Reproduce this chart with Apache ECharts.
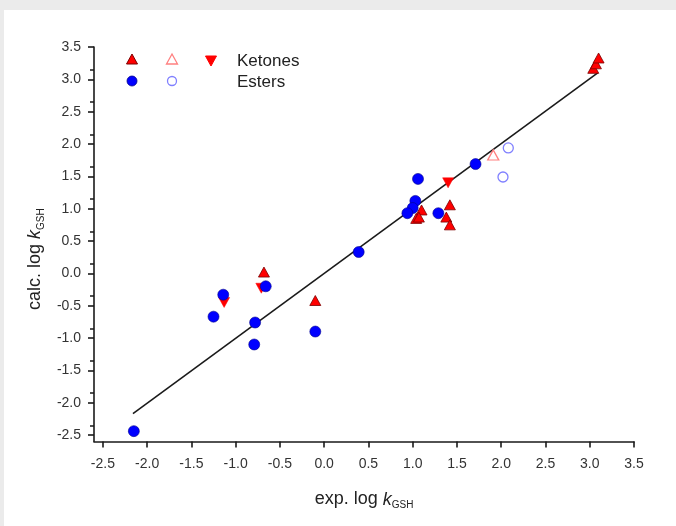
<!DOCTYPE html>
<html>
<head>
<meta charset="utf-8">
<script src="https://cdn.jsdelivr.net/npm/echarts@6/dist/echarts.min.js"></script>
<style>
  html, body { margin: 0; padding: 0; background: #fff; }
  #main { width: 676px; height: 526px; }
</style>
</head>
<body>
<div id="main"></div>
<script>
// exp. log k (x), calc. log k (y)
const ketonesUp = [
    [3.04, 3.17], [3.07, 3.24], [3.10, 3.33],
    [-0.68, 0.02], [-0.10, -0.42],
    [1.10, 0.98], [1.04, 0.85], [1.07, 0.87],
    [1.42, 1.06], [1.38, 0.87], [1.42, 0.75]
];
const ketonesOpen = [[1.91, 1.83]];
const ketonesDown = [[-1.13, -0.45], [-0.71, -0.23], [1.40, 1.40]];
const estersFilled = [
    [-2.15, -2.44], [-1.14, -0.33], [-1.25, -0.67], [-0.66, -0.20],
    [-0.78, -0.76], [-0.79, -1.10], [-0.10, -0.90], [0.39, 0.33],
    [1.06, 1.46], [1.03, 1.12], [1.00, 1.01], [0.94, 0.93],
    [1.29, 0.93], [1.71, 1.69]
];
const estersOpen = [[2.08, 1.94], [2.02, 1.49]];
const fitLine = [[-2.16, -2.17], [3.09, 3.10]];

const xRange = [-2.6, 3.5];
const yRange = [-2.6, 3.5];
const tickValues = [-2.5, -2, -1.5, -1, -0.5, 0, 0.5, 1, 1.5, 2, 2.5, 3, 3.5];

const FONT = 'Liberation Sans, Arial, sans-serif';

let chart = echarts.init(document.getElementById('main'), null, { renderer: 'canvas' });

function axisName(text) {
    return text + ' {k|k}{sub|GSH}';
}

const nameRich = {
    k: { fontFamily: FONT, fontSize: 18, fontStyle: 'italic', color: '#222' },
    sub: { fontFamily: FONT, fontSize: 10, color: '#222', padding: [12, 0, 0, 0] }
};

let option = {
    backgroundColor: '#fff',
    animation: false,
    grid: { left: 94, top: 47, width: 540, height: 394.5 },
    xAxis: {
        type: 'value',
        min: xRange[0],
        max: xRange[1],
        interval: 0.5,
        name: axisName('exp. log'),
        nameLocation: 'middle',
        nameGap: 47,
        nameTextStyle: { fontFamily: FONT, fontSize: 18, color: '#222', rich: nameRich },
        axisLine: { show: true, onZero: false, lineStyle: { color: '#1a1a1a', width: 1.6 } },
        axisTick: { show: true, inside: false, length: 6, lineStyle: { color: '#1a1a1a', width: 1.6 },
            customValues: tickValues },
        axisLabel: {
            fontFamily: FONT, fontSize: 14, color: '#333', margin: 16,
            customValues: tickValues,
            formatter: v => v.toFixed(1)
        },
        splitLine: { show: false }
    },
    yAxis: {
        type: 'value',
        min: yRange[0],
        max: yRange[1],
        interval: 0.5,
        name: axisName('calc. log'),
        nameLocation: 'middle',
        nameRotate: 90,
        nameGap: 47,
        nameTextStyle: { fontFamily: FONT, fontSize: 18, color: '#222', rich: nameRich, padding: [0, 30, 0, 0] },
        axisLine: { show: true, onZero: false, lineStyle: { color: '#1a1a1a', width: 1.6 } },
        axisTick: { show: true, inside: false, length: 6, lineStyle: { color: '#1a1a1a', width: 1.6 },
            customValues: tickValues },
        minorTick: { show: true, splitNumber: 2, length: 4, lineStyle: { color: '#1a1a1a', width: 1.5 } },
        axisLabel: {
            fontFamily: FONT, fontSize: 14, color: '#333', margin: 13,
            customValues: tickValues,
            formatter: v => v.toFixed(1)
        },
        splitLine: { show: false }
    },
    graphic: [
        // grey page frame
        { type: 'rect', shape: { x: 0, y: 0, width: 676, height: 10 }, style: { fill: '#ebebeb' }, silent: true },
        { type: 'rect', shape: { x: 0, y: 0, width: 4, height: 526 }, style: { fill: '#ebebeb' }, silent: true },
        // legend
        { type: 'polygon', shape: { points: [[132, 54], [137.5, 64], [126.5, 64]] }, style: { fill: '#ff0000', stroke: '#7a0000', lineWidth: 1 } },
        { type: 'polygon', shape: { points: [[172, 54], [177.5, 64], [166.5, 64]] }, style: { fill: 'none', stroke: '#ff8080', lineWidth: 1.3 } },
        { type: 'polygon', shape: { points: [[205.5, 56], [216.5, 56], [211, 66]] }, style: { fill: '#ff0000', stroke: '#ff0000', lineWidth: 1 } },
        { type: 'circle', shape: { cx: 132, cy: 81, r: 5 }, style: { fill: '#0000ff', stroke: '#00008b', lineWidth: 0.8 } },
        { type: 'circle', shape: { cx: 172, cy: 81, r: 4.5 }, style: { fill: 'none', stroke: '#8080ff', lineWidth: 1.3 } },
        { type: 'text', x: 237, y: 61, style: { text: 'Ketones', fontFamily: FONT, fontSize: 17, fill: '#222', verticalAlign: 'middle' } },
        { type: 'text', x: 237, y: 82, style: { text: 'Esters', fontFamily: FONT, fontSize: 17, fill: '#222', verticalAlign: 'middle' } }
    ],
    series: [
        {
            name: 'fit',
            type: 'line',
            data: fitLine,
            symbol: 'none',
            lineStyle: { color: '#1a1a1a', width: 1.6 },
            z: 1
        },
        {
            name: 'Ketones',
            type: 'scatter',
            data: ketonesUp,
            symbol: 'triangle',
            symbolSize: [11, 10],
            itemStyle: { color: '#ff0000', borderColor: '#7a0000', borderWidth: 0.8, opacity: 1 },
            z: 3
        },
        {
            name: 'Ketones open',
            type: 'scatter',
            data: ketonesOpen,
            symbol: 'triangle',
            symbolSize: [11, 10],
            itemStyle: { color: 'rgba(0,0,0,0)', borderColor: '#ff8080', borderWidth: 1.3, opacity: 1 },
            z: 3
        },
        {
            name: 'Ketones down',
            type: 'scatter',
            data: ketonesDown,
            symbol: 'triangle',
            symbolRotate: 180,
            symbolSize: [11, 10],
            itemStyle: { color: '#ff0000', borderColor: '#ff0000', borderWidth: 0.5, opacity: 1 },
            z: 3
        },
        {
            name: 'Esters',
            type: 'scatter',
            data: estersFilled,
            symbol: 'circle',
            symbolSize: 11,
            itemStyle: { color: '#0000ff', borderColor: '#00008b', borderWidth: 0.6, opacity: 1 },
            z: 4
        },
        {
            name: 'Esters open',
            type: 'scatter',
            data: estersOpen,
            symbol: 'circle',
            symbolSize: 10,
            itemStyle: { color: 'rgba(0,0,0,0)', borderColor: '#8080ff', borderWidth: 1.3, opacity: 1 },
            z: 3
        }
    ]
};

chart.setOption(option);
</script>
</body>
</html>
